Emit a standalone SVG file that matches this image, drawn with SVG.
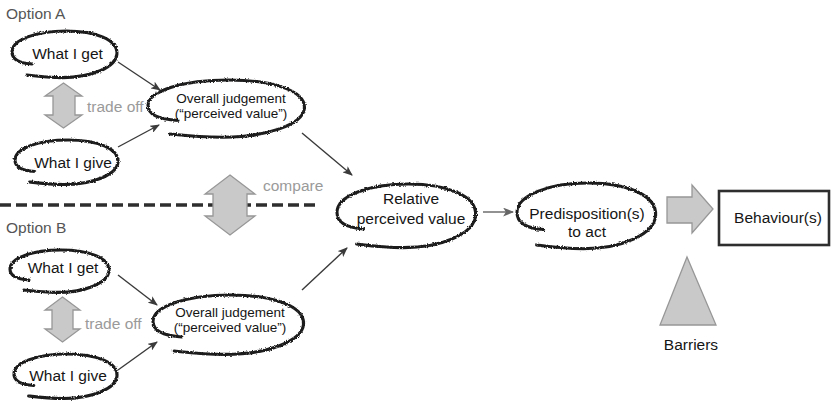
<svg xmlns="http://www.w3.org/2000/svg" width="832" height="403" viewBox="0 0 832 403">
<style>
  text { font-family: "Liberation Sans", Arial, sans-serif; }
  .lbl { font-size: 15.5px; fill: #151515; text-anchor: middle; }
  .small { font-size: 13.5px; fill: #151515; text-anchor: middle; }
  .opt { font-size: 15.5px; fill: #555; }
  .gray { font-size: 15.5px; fill: #9a9a9a; }
  .loop { fill: none; stroke: #1e1e1e; stroke-width: 3.1; stroke-linecap: round; filter: url(#rough); }
  .conn { fill: none; stroke: #3a3a3a; stroke-width: 1.4; marker-end: url(#ah); }
  .conn2 { fill: none; stroke: #777; stroke-width: 1.6; marker-end: url(#ah2); }
  .block { fill: #c9c9c9; stroke: #979797; stroke-width: 1.3; stroke-linejoin: miter; }
</style>
<defs>
  <filter id="rough" x="-10%" y="-20%" width="120%" height="140%">
    <feTurbulence type="fractalNoise" baseFrequency="0.8" numOctaves="2" seed="3" result="n"/>
    <feDisplacementMap in="SourceGraphic" in2="n" scale="3" xChannelSelector="R" yChannelSelector="G"/>
  </filter>
  <marker id="ah" viewBox="0 0 10 8" refX="9" refY="4" markerWidth="10" markerHeight="8" markerUnits="userSpaceOnUse" orient="auto">
    <path d="M0,0 L10,4 L0,8 L2.5,4 z" fill="#3a3a3a"/>
  </marker>
  <marker id="ah2" viewBox="0 0 10 8" refX="9" refY="4" markerWidth="11" markerHeight="9" markerUnits="userSpaceOnUse" orient="auto">
    <path d="M0,0 L10,4 L0,8 L2.5,4 z" fill="#666"/>
  </marker>
</defs>
<rect width="832" height="403" fill="#ffffff"/>

<text class="opt" x="6" y="19">Option A</text>
<text class="opt" x="6" y="233">Option B</text>

<line x1="0" y1="205" x2="318" y2="205" stroke="#2e2e2e" stroke-width="3.5" stroke-dasharray="11,5"/>

<g id="connectors">
  <line class="conn" x1="118" y1="62" x2="160" y2="90"/>
  <line class="conn" x1="118" y1="147" x2="159" y2="125"/>
  <line class="conn" x1="302" y1="133" x2="352" y2="175"/>
  <line class="conn" x1="118" y1="275" x2="157" y2="305"/>
  <line class="conn" x1="118" y1="370" x2="157" y2="342"/>
  <line class="conn" x1="302" y1="290" x2="347" y2="248"/>
  <line class="conn2" x1="483" y1="212" x2="513" y2="212"/>
</g>

<g id="getA">
  <path class="loop" d="M32.1,64 C17.3,62.9 12,58.5 12,51.9 C12,39.8 35.8,31 66.1,31 C95.7,31 118,39.8 116.9,54.1 C115.9,67.3 91.5,77.6 62.3,77.6 C46.4,77.6 35.8,76.1 26.8,75"/>
  <text class="lbl" x="67.5" y="58.5">What I get</text>
</g>
<g id="giveA">
  <path class="loop" d="M34.8,171.5 C20.2,170.5 15,166.3 15,159.9 C15,148.4 38.4,140 68,140 C97.2,140 119,148.4 118,162.1 C116.9,174.7 93,184.5 64.4,184.5 C48.8,184.5 38.4,183.1 29.6,182"/>
  <text class="lbl" x="73" y="167.5">What I give</text>
</g>
<g id="tradeA">
  <polygon class="block" points="63.5,83 82,96 75,96 75,115 82,115 63.5,128 45,115 53,115 53,96 45,96"/>
  <text class="gray" x="87" y="111.5">trade off</text>
</g>
<g id="overallA">
  <path class="loop" d="M178,120.5 C155.9,119.2 148,113.8 148,105.6 C148,90.8 183.5,80 228.6,80 C272.8,80 306,90.8 304.4,108.4 C302.8,124.6 266.5,137.2 223,137.2 C199.3,137.2 183.5,135.4 170.1,134"/>
  <text class="small" x="231" y="102.5">Overall judgement</text>
  <text class="small" x="231" y="117.5">(“perceived value”)</text>
</g>

<g id="compare">
  <polygon class="block" points="230,175 255,194 247,194 247,216 255,216 230,235 205,216 213,216 213,194 205,194"/>
  <text class="gray" x="263" y="191">compare</text>
</g>

<g id="getB">
  <path class="loop" d="M29,280 C15,279 10,275 10,269 C10,258 32.5,250 61,250 C89,250 110,258 109,271 C108,283 85,292.4 57.5,292.4 C42.5,292.4 32.5,291 24,290"/>
  <text class="lbl" x="63" y="272.5">What I get</text>
</g>
<g id="giveB">
  <path class="loop" d="M33.8,385.5 C19.2,384.5 14,380.3 14,373.9 C14,362.4 37.4,354 67,354 C96.2,354 118,362.4 117,376.1 C115.9,388.7 92,398.5 63.4,398.5 C47.8,398.5 37.4,397.1 28.6,396"/>
  <text class="lbl" x="68" y="380.5">What I give</text>
</g>
<g id="tradeB">
  <polygon class="block" points="62.5,297 80,310 73,310 73,329 80,329 62.5,342 45,329 52,329 52,310 45,310"/>
  <text class="gray" x="85" y="328.5">trade off</text>
</g>
<g id="overallB">
  <path class="loop" d="M181.9,337 C160.6,335.6 153,330 153,321.6 C153,306.2 187.2,295 230.5,295 C273.1,295 305,306.2 303.5,324.4 C302,341.2 267,354.4 225.2,354.4 C202.6,354.4 187.2,352.4 174.3,351"/>
  <text class="small" x="230" y="317">Overall judgement</text>
  <text class="small" x="230" y="332">(“perceived value”)</text>
</g>

<g id="relative">
  <path class="loop" d="M363.6,229 C344,227.5 337,221.5 337,212.5 C337,196 368.5,184 408.4,184 C447.6,184 477,196 475.6,215.5 C474.2,233.5 442,247.6 403.5,247.6 C382.5,247.6 368.5,245.5 356.6,244"/>
  <text class="lbl" x="411" y="203.5">Relative</text>
  <text class="lbl" x="411" y="223.5">perceived value</text>
</g>

<g id="predisposition">
  <path class="loop" d="M543.6,229.5 C524,228 517,221.8 517,212.4 C517,195.4 548.5,183 588.4,183 C627.6,183 657,195.4 655.6,215.6 C654.2,234.2 622,248.7 583.5,248.7 C562.5,248.7 548.5,246.6 536.6,245"/>
  <text class="lbl" x="587" y="218.5">Predisposition(s)</text>
  <text class="lbl" x="587" y="237">to act</text>
</g>

<g id="toBehaviour">
  <polygon class="block" points="667,197 692,197 692,185 713,209 692,233 692,223 667,223"/>
</g>

<g id="behaviour">
  <rect x="719" y="191" width="110" height="54" fill="#fff" stroke="#2e2e2e" stroke-width="2.6"/>
  <text class="lbl" x="778" y="222.5">Behaviour(s)</text>
</g>

<g id="barriers">
  <polygon class="block" points="687,257 716,325 660,325"/>
  <text class="lbl" x="691" y="350">Barriers</text>
</g>
</svg>
